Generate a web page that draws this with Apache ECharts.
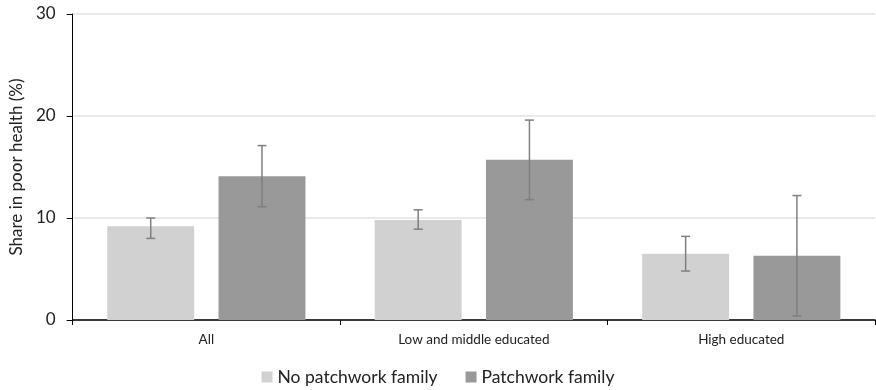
<!DOCTYPE html>
<html>
<head>
<meta charset="utf-8">
<script src="https://cdn.jsdelivr.net/npm/echarts@6/dist/echarts.min.js"></script>
<style>
  html, body { margin: 0; padding: 0; background: #ffffff; }
  #chart { width: 876px; height: 390px; }
</style>
</head>
<body>
<div id="chart"></div>
<script>
// Share in poor health by family type, with confidence intervals
const categories = ['All', 'Low and middle educated', 'High educated'];
const seriesNames = ['No patchwork family', 'Patchwork family'];

const noPatchwork = [9.2, 9.8, 6.5];
const noPatchworkLow = [8.0, 8.9, 4.8];
const noPatchworkHigh = [10.0, 10.8, 8.2];

const patchwork = [14.1, 15.7, 6.3];
const patchworkLow = [11.1, 11.8, 0.4];
const patchworkHigh = [17.1, 19.6, 12.2];

const yTicks = [0, 10, 20, 30];

const FONT = 'Lato, "Open Sans", sans-serif';
const BAR_WIDTH_RATIO = 0.325;   // bar width as a share of the category band
const BAR_GAP_RATIO = 0.28;      // gap between the two bars as a share of bar width
const CAP = 9;                   // error-bar cap width in px

function errorSeries(seriesIndex, lows, highs) {
  const data = categories.map((c, i) => [i, lows[i], highs[i]]);
  return {
    type: 'custom',
    name: seriesNames[seriesIndex] + ' CI',
    z: 5,
    silent: true,
    data: data,
    encode: { x: 0, y: [1, 2] },
    renderItem: function (params, api) {
      const idx = api.value(0);
      const lo = api.coord([idx, api.value(1)]);
      const hi = api.coord([idx, api.value(2)]);
      const band = api.size([1, 0])[0];
      const w = band * BAR_WIDTH_RATIO;
      const gap = w * BAR_GAP_RATIO;
      const shift = (w + gap) / 2 * (seriesIndex === 0 ? -1 : 1);
      const x = lo[0] + shift;
      const style = { stroke: '#7f7f7f', lineWidth: 1.5 };
      return {
        type: 'group',
        children: [
          { type: 'line', shape: { x1: x, y1: lo[1], x2: x, y2: hi[1] }, style: style },
          { type: 'line', shape: { x1: x - CAP / 2, y1: lo[1], x2: x + CAP / 2, y2: lo[1] }, style: style },
          { type: 'line', shape: { x1: x - CAP / 2, y1: hi[1], x2: x + CAP / 2, y2: hi[1] }, style: style }
        ]
      };
    }
  };
}

const chart = echarts.init(document.getElementById('chart'), null, { renderer: 'canvas' });

chart.setOption({
  animation: false,
  backgroundColor: '#ffffff',
  grid: { left: 71, right: 1, top: 14, bottom: 70, containLabel: false },
  legend: {
    data: seriesNames,
    top: 363,
    left: 'center',
    itemWidth: 11,
    itemHeight: 11,
    itemGap: 28,
    icon: 'rect',
    textStyle: { fontFamily: FONT, fontSize: 17.5, color: '#222222' }
  },
  xAxis: {
    type: 'category',
    data: categories,
    axisLine: { show: true, lineStyle: { color: '#000000', width: 1.5 } },
    axisTick: { show: true, length: 5, lineStyle: { color: '#000000' } },
    axisLabel: { fontFamily: FONT, fontSize: 13.5, color: '#222222', margin: 13 },
    splitLine: { show: false }
  },
  yAxis: {
    type: 'value',
    min: yTicks[0],
    max: yTicks[yTicks.length - 1],
    interval: 10,
    name: 'Share in poor health (%)',
    nameLocation: 'middle',
    nameGap: 46,
    nameTextStyle: { fontFamily: FONT, fontSize: 17, color: '#222222' },
    axisLine: { show: true, lineStyle: { color: '#000000', width: 1 } },
    axisTick: { show: true, length: 6, lineStyle: { color: '#000000' } },
    axisLabel: { fontFamily: FONT, fontSize: 17, color: '#222222', margin: 17 },
    splitLine: { show: true, lineStyle: { color: '#e2e2e2', width: 1.5 } }
  },
  series: [
    {
      name: seriesNames[0],
      type: 'bar',
      data: noPatchwork,
      barWidth: (BAR_WIDTH_RATIO * 100) + '%',
      barGap: (BAR_GAP_RATIO * 100) + '%',
      itemStyle: { color: '#d0d1d0' }
    },
    {
      name: seriesNames[1],
      type: 'bar',
      data: patchwork,
      barWidth: (BAR_WIDTH_RATIO * 100) + '%',
      barGap: (BAR_GAP_RATIO * 100) + '%',
      itemStyle: { color: '#999999' }
    },
    errorSeries(0, noPatchworkLow, noPatchworkHigh),
    errorSeries(1, patchworkLow, patchworkHigh)
  ]
});
</script>
</body>
</html>
